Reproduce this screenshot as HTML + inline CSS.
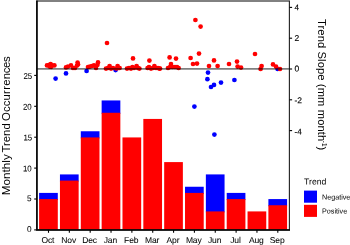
<!DOCTYPE html><html><head><meta charset="utf-8"><title>Monthly Trend Occurrences</title>
<style>html,body{margin:0;padding:0;background:#fff}body{width:350px;height:245px;overflow:hidden}svg{display:block}text{font-family:"Liberation Sans",sans-serif;fill:#000}.t{font-size:8.5px;letter-spacing:-0.12px;stroke:#000;stroke-width:0.05px}.a{font-size:11.2px}.r{stroke-width:0.15px}</style></head><body>
<svg width="350" height="245" viewBox="0 0 350 245">
<rect width="350" height="245" fill="#fff"/>
<rect x="39.10" y="192.91" width="18.7" height="7.16" fill="#0000ff"/>
<rect x="39.10" y="199.08" width="18.7" height="30.82" fill="#ff0000"/>
<rect x="59.95" y="174.42" width="18.7" height="7.16" fill="#0000ff"/>
<rect x="59.95" y="180.58" width="18.7" height="49.32" fill="#ff0000"/>
<rect x="80.79" y="131.26" width="18.7" height="7.16" fill="#0000ff"/>
<rect x="80.79" y="137.43" width="18.7" height="92.47" fill="#ff0000"/>
<rect x="101.64" y="100.44" width="18.7" height="13.33" fill="#0000ff"/>
<rect x="101.64" y="112.77" width="18.7" height="117.14" fill="#ff0000"/>
<rect x="122.48" y="137.43" width="18.7" height="92.47" fill="#ff0000"/>
<rect x="143.33" y="118.93" width="18.7" height="110.97" fill="#ff0000"/>
<rect x="164.17" y="162.09" width="18.7" height="67.81" fill="#ff0000"/>
<rect x="185.02" y="186.75" width="18.7" height="7.16" fill="#0000ff"/>
<rect x="185.02" y="192.91" width="18.7" height="36.99" fill="#ff0000"/>
<rect x="205.86" y="174.41" width="18.7" height="37.99" fill="#0000ff"/>
<rect x="205.86" y="211.41" width="18.7" height="18.50" fill="#ff0000"/>
<rect x="226.71" y="192.91" width="18.7" height="7.16" fill="#0000ff"/>
<rect x="226.71" y="199.08" width="18.7" height="30.82" fill="#ff0000"/>
<rect x="247.55" y="211.41" width="18.7" height="18.50" fill="#ff0000"/>
<rect x="268.39" y="199.08" width="18.7" height="7.16" fill="#0000ff"/>
<rect x="268.39" y="205.24" width="18.7" height="24.66" fill="#ff0000"/>
<circle cx="115.6" cy="70.1" r="2.35" fill="#0000ff"/>
<circle cx="277.6" cy="69" r="2.35" fill="#0000ff"/>
<circle cx="47" cy="65.4" r="2.35" fill="#ff0000"/>
<circle cx="49" cy="65" r="2.35" fill="#ff0000"/>
<circle cx="50.6" cy="64" r="2.35" fill="#ff0000"/>
<circle cx="52" cy="65.4" r="2.35" fill="#ff0000"/>
<circle cx="54.4" cy="65.4" r="2.35" fill="#ff0000"/>
<circle cx="49.6" cy="66.6" r="2.35" fill="#ff0000"/>
<circle cx="51.2" cy="66.8" r="2.35" fill="#ff0000"/>
<circle cx="116.3" cy="68.5" r="2.35" fill="#ff0000"/>
<circle cx="66" cy="67.4" r="2.35" fill="#ff0000"/>
<circle cx="68" cy="66.6" r="2.35" fill="#ff0000"/>
<circle cx="71" cy="65.4" r="2.35" fill="#ff0000"/>
<circle cx="73" cy="68" r="2.35" fill="#ff0000"/>
<circle cx="75" cy="68" r="2.35" fill="#ff0000"/>
<circle cx="77" cy="65.6" r="2.35" fill="#ff0000"/>
<circle cx="77.6" cy="62.6" r="2.35" fill="#ff0000"/>
<circle cx="78" cy="64.4" r="2.35" fill="#ff0000"/>
<circle cx="88" cy="67" r="2.35" fill="#ff0000"/>
<circle cx="90" cy="66.6" r="2.35" fill="#ff0000"/>
<circle cx="92" cy="66" r="2.35" fill="#ff0000"/>
<circle cx="94" cy="65.4" r="2.35" fill="#ff0000"/>
<circle cx="96" cy="68" r="2.35" fill="#ff0000"/>
<circle cx="97.4" cy="65" r="2.35" fill="#ff0000"/>
<circle cx="98" cy="62.4" r="2.35" fill="#ff0000"/>
<circle cx="107" cy="43" r="2.35" fill="#ff0000"/>
<circle cx="106" cy="68.6" r="2.35" fill="#ff0000"/>
<circle cx="108" cy="68" r="2.35" fill="#ff0000"/>
<circle cx="109.6" cy="66" r="2.35" fill="#ff0000"/>
<circle cx="111" cy="68.6" r="2.35" fill="#ff0000"/>
<circle cx="113" cy="68" r="2.35" fill="#ff0000"/>
<circle cx="117.6" cy="66" r="2.35" fill="#ff0000"/>
<circle cx="118.4" cy="68" r="2.35" fill="#ff0000"/>
<circle cx="119.6" cy="68" r="2.35" fill="#ff0000"/>
<circle cx="133" cy="58.4" r="2.35" fill="#ff0000"/>
<circle cx="127" cy="68.6" r="2.35" fill="#ff0000"/>
<circle cx="129" cy="68" r="2.35" fill="#ff0000"/>
<circle cx="131" cy="68.6" r="2.35" fill="#ff0000"/>
<circle cx="132.4" cy="67" r="2.35" fill="#ff0000"/>
<circle cx="134" cy="68" r="2.35" fill="#ff0000"/>
<circle cx="136.6" cy="66" r="2.35" fill="#ff0000"/>
<circle cx="138" cy="68" r="2.35" fill="#ff0000"/>
<circle cx="139.4" cy="68.6" r="2.35" fill="#ff0000"/>
<circle cx="149.4" cy="60.6" r="2.35" fill="#ff0000"/>
<circle cx="147.6" cy="68" r="2.35" fill="#ff0000"/>
<circle cx="149" cy="67" r="2.35" fill="#ff0000"/>
<circle cx="151" cy="68.6" r="2.35" fill="#ff0000"/>
<circle cx="153" cy="68" r="2.35" fill="#ff0000"/>
<circle cx="154.4" cy="66" r="2.35" fill="#ff0000"/>
<circle cx="156" cy="68" r="2.35" fill="#ff0000"/>
<circle cx="158" cy="68" r="2.35" fill="#ff0000"/>
<circle cx="159.4" cy="68.6" r="2.35" fill="#ff0000"/>
<circle cx="169.6" cy="57.4" r="2.35" fill="#ff0000"/>
<circle cx="176" cy="58.6" r="2.35" fill="#ff0000"/>
<circle cx="171" cy="64" r="2.35" fill="#ff0000"/>
<circle cx="168" cy="68" r="2.35" fill="#ff0000"/>
<circle cx="170" cy="67" r="2.35" fill="#ff0000"/>
<circle cx="172.4" cy="67" r="2.35" fill="#ff0000"/>
<circle cx="175" cy="67" r="2.35" fill="#ff0000"/>
<circle cx="177" cy="67" r="2.35" fill="#ff0000"/>
<circle cx="178.6" cy="68" r="2.35" fill="#ff0000"/>
<circle cx="160" cy="68.6" r="2.35" fill="#ff0000"/>
<circle cx="190.6" cy="58" r="2.35" fill="#ff0000"/>
<circle cx="199" cy="53.6" r="2.35" fill="#ff0000"/>
<circle cx="193" cy="64" r="2.35" fill="#ff0000"/>
<circle cx="197" cy="63.6" r="2.35" fill="#ff0000"/>
<circle cx="195.4" cy="20" r="2.35" fill="#ff0000"/>
<circle cx="200.6" cy="26.6" r="2.35" fill="#ff0000"/>
<circle cx="209" cy="66" r="2.35" fill="#ff0000"/>
<circle cx="214" cy="60.4" r="2.35" fill="#ff0000"/>
<circle cx="217.6" cy="66" r="2.35" fill="#ff0000"/>
<circle cx="229" cy="64" r="2.35" fill="#ff0000"/>
<circle cx="237" cy="61.6" r="2.35" fill="#ff0000"/>
<circle cx="237.6" cy="66.6" r="2.35" fill="#ff0000"/>
<circle cx="241" cy="67.6" r="2.35" fill="#ff0000"/>
<circle cx="255" cy="54" r="2.35" fill="#ff0000"/>
<circle cx="261.6" cy="66" r="2.35" fill="#ff0000"/>
<circle cx="260.6" cy="69" r="2.35" fill="#ff0000"/>
<circle cx="273" cy="64.4" r="2.35" fill="#ff0000"/>
<circle cx="276" cy="66.6" r="2.35" fill="#ff0000"/>
<circle cx="280" cy="69" r="2.35" fill="#ff0000"/>
<circle cx="55.6" cy="78.6" r="2.35" fill="#0000ff"/>
<circle cx="66" cy="73.4" r="2.35" fill="#0000ff"/>
<circle cx="86.6" cy="71" r="2.35" fill="#0000ff"/>
<circle cx="208" cy="72.6" r="2.35" fill="#0000ff"/>
<circle cx="207.4" cy="79.2" r="2.35" fill="#0000ff"/>
<circle cx="221" cy="82.6" r="2.35" fill="#0000ff"/>
<circle cx="214" cy="84.9" r="2.35" fill="#0000ff"/>
<circle cx="211" cy="87" r="2.35" fill="#0000ff"/>
<circle cx="234.4" cy="80" r="2.35" fill="#0000ff"/>
<circle cx="194.4" cy="106.6" r="2.35" fill="#0000ff"/>
<circle cx="214.4" cy="134.6" r="2.35" fill="#0000ff"/>
<line x1="36.9" x2="289.4" y1="68.8" y2="68.8" stroke="#000" stroke-opacity="0.5" stroke-width="1.7"/>
<rect x="36.9" y="1.0" width="252.49999999999997" height="228.9" fill="none" stroke="#262626" stroke-width="1.15"/>
<path d="M36.9 0.4V229.9H290.0" fill="none" stroke="#000" stroke-width="1.5"/>
<line x1="34.199999999999996" x2="36.9" y1="229.90" y2="229.90" stroke="#000" stroke-width="1.1"/>
<text class="t" transform="translate(31.55 232.00) rotate(0.05) scale(0.97 1)" text-anchor="end">0</text>
<line x1="34.199999999999996" x2="36.9" y1="199.00" y2="199.00" stroke="#000" stroke-width="1.1"/>
<text class="t" transform="translate(31.55 201.20) rotate(0.05) scale(0.97 1)" text-anchor="end">5</text>
<line x1="34.199999999999996" x2="36.9" y1="168.10" y2="168.10" stroke="#000" stroke-width="1.1"/>
<text class="t" transform="translate(31.55 171.55) rotate(0.05) scale(0.93 1)" text-anchor="end">10</text>
<line x1="34.199999999999996" x2="36.9" y1="137.20" y2="137.20" stroke="#000" stroke-width="1.1"/>
<text class="t" transform="translate(32.05 140.55) rotate(0.05) scale(0.93 1)" text-anchor="end">15</text>
<line x1="34.199999999999996" x2="36.9" y1="106.30" y2="106.30" stroke="#000" stroke-width="1.1"/>
<text class="t" transform="translate(31.55 109.65) rotate(0.05) scale(0.93 1)" text-anchor="end">20</text>
<line x1="34.199999999999996" x2="36.9" y1="75.40" y2="75.40" stroke="#000" stroke-width="1.1"/>
<text class="t" transform="translate(32.05 79.00) rotate(0.05) scale(0.93 1)" text-anchor="end">25</text>
<line x1="289.4" x2="292.09999999999997" y1="7.40" y2="7.40" stroke="#000" stroke-width="1.1"/>
<text class="t r" style="font-size:8.1px" x="294.59999999999997" y="10.30" transform="rotate(0.05 294.59999999999997 10.30)">4</text>
<line x1="289.4" x2="292.09999999999997" y1="38.20" y2="38.20" stroke="#000" stroke-width="1.1"/>
<text class="t r" x="294.59999999999997" y="41.00" transform="rotate(0.05 294.59999999999997 41.00)">2</text>
<line x1="289.4" x2="292.09999999999997" y1="69.00" y2="69.00" stroke="#000" stroke-width="1.1"/>
<text class="t r" x="294.59999999999997" y="71.40" transform="rotate(0.05 294.59999999999997 71.40)">0</text>
<line x1="289.4" x2="292.09999999999997" y1="99.80" y2="99.80" stroke="#000" stroke-width="1.1"/>
<text class="t r" x="294.59999999999997" y="103.30" transform="rotate(0.05 294.59999999999997 103.30)">-2</text>
<line x1="289.4" x2="292.09999999999997" y1="130.60" y2="130.60" stroke="#000" stroke-width="1.1"/>
<text class="t r" style="font-size:8.1px" x="294.59999999999997" y="134.40" transform="rotate(0.05 294.59999999999997 134.40)">-4</text>
<line x1="48.50" x2="48.50" y1="229.9" y2="232.8" stroke="#000" stroke-width="1.1"/>
<text class="t" x="47.85" y="243" transform="rotate(0.05 47.85 243)" text-anchor="middle">Oct</text>
<line x1="69.34" x2="69.34" y1="229.9" y2="232.8" stroke="#000" stroke-width="1.1"/>
<text class="t" x="68.70" y="243" transform="rotate(0.05 68.70 243)" text-anchor="middle">Nov</text>
<line x1="90.19" x2="90.19" y1="229.9" y2="232.8" stroke="#000" stroke-width="1.1"/>
<text class="t" x="89.54" y="243" transform="rotate(0.05 89.54 243)" text-anchor="middle">Dec</text>
<line x1="111.03" x2="111.03" y1="229.9" y2="232.8" stroke="#000" stroke-width="1.1"/>
<text class="t" x="110.39" y="243" transform="rotate(0.05 110.39 243)" text-anchor="middle">Jan</text>
<line x1="131.88" x2="131.88" y1="229.9" y2="232.8" stroke="#000" stroke-width="1.1"/>
<text class="t" x="131.23" y="243" transform="rotate(0.05 131.23 243)" text-anchor="middle">Feb</text>
<line x1="152.73" x2="152.73" y1="229.9" y2="232.8" stroke="#000" stroke-width="1.1"/>
<text class="t" x="152.08" y="243" transform="rotate(0.05 152.08 243)" text-anchor="middle">Mar</text>
<line x1="173.57" x2="173.57" y1="229.9" y2="232.8" stroke="#000" stroke-width="1.1"/>
<text class="t" x="172.92" y="243" transform="rotate(0.05 172.92 243)" text-anchor="middle">Apr</text>
<line x1="194.42" x2="194.42" y1="229.9" y2="232.8" stroke="#000" stroke-width="1.1"/>
<text class="t" x="193.77" y="243" transform="rotate(0.05 193.77 243)" text-anchor="middle">May</text>
<line x1="215.26" x2="215.26" y1="229.9" y2="232.8" stroke="#000" stroke-width="1.1"/>
<text class="t" x="214.61" y="243" transform="rotate(0.05 214.61 243)" text-anchor="middle">Jun</text>
<line x1="236.11" x2="236.11" y1="229.9" y2="232.8" stroke="#000" stroke-width="1.1"/>
<text class="t" x="235.46" y="243" transform="rotate(0.05 235.46 243)" text-anchor="middle">Jul</text>
<line x1="256.95" x2="256.95" y1="229.9" y2="232.8" stroke="#000" stroke-width="1.1"/>
<text class="t" x="256.30" y="243" transform="rotate(0.05 256.30 243)" text-anchor="middle">Aug</text>
<line x1="277.80" x2="277.80" y1="229.9" y2="232.8" stroke="#000" stroke-width="1.1"/>
<text class="t" x="277.14" y="243" transform="rotate(0.05 277.14 243)" text-anchor="middle">Sep</text>
<g transform="translate(9.5,0) rotate(-90)"><text class="a" style="font-size:11.75px" x="-195.3">Monthly</text><text class="a" style="font-size:11.4px" x="-152.6">Trend</text><text class="a" style="font-size:11.4px" x="-120.9" dx="0 0 0 0 0.4 0.4 0.2 0 -0.3 -0.3 -0.4">Occurrences</text></g>
<text class="a" transform="translate(317.6,19) rotate(90)"><tspan letter-spacing="0.1px">Trend Slope (mm month</tspan><tspan font-size="6.3px" x="121.8" y="-4.4">-1</tspan><tspan x="127.4" y="0">)</tspan></text>
<text x="304.0" y="184.5" transform="rotate(0.05 304 184.5)" font-size="8.7px">Trend</text>
<rect x="304" y="190.6" width="13" height="12.1" fill="#0000ff"/>
<rect x="304" y="204.8" width="13" height="12.1" fill="#ff0000"/>
<text x="322" y="199.6" transform="rotate(0.05 322 199.6)" style="font-size:7.2px">Negative</text>
<text x="322" y="213.4" transform="rotate(0.05 322 213.4)" style="font-size:7.2px">Positive</text>
</svg></body></html>
